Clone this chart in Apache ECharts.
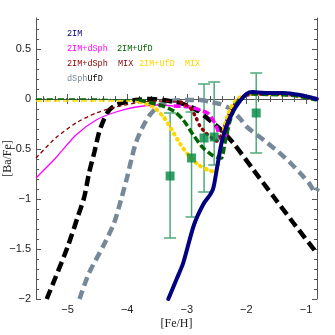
<!DOCTYPE html>
<html>
<head>
<meta charset="utf-8">
<script src="https://cdn.jsdelivr.net/npm/echarts@6/dist/echarts.min.js"></script>
<style>
  html, body { margin: 0; padding: 0; background: #fff; }
  #chart { width: 335px; height: 335px; }
</style>
</head>
<body>
<div id="chart"></div>
<script>
// axis ranges and ticks
const X_MIN = -5.53, X_MAX = -0.815;
const Y_MIN = -2, Y_MAX = 0.81;
const xMajorTicks = [-5, -4, -3, -2, -1];
const yMajorTicks = [-2, -1.5, -1, -0.5, 0, 0.5];
const xMinorTicks = [-5.4, -5.2, -4.8, -4.6, -4.4, -4.2, -3.8, -3.6, -3.4, -3.2,
  -2.8, -2.6, -2.4, -2.2, -1.8, -1.6, -1.4, -1.2, -0.8];
const yMinorTicks = [-1.9, -1.8, -1.7, -1.6, -1.4, -1.3, -1.2, -1.1, -0.9, -0.8, -0.7, -0.6,
  -0.4, -0.3, -0.2, -0.1, 0.1, 0.2, 0.3, 0.4, 0.6, 0.7, 0.8];

// model curves [Fe/H, Ba/Fe]
const line2IM = [[-3.31, -2.0], [-3.17, -1.8], [-3.06, -1.64], [-2.88, -1.26], [-2.72, -1.05],
  [-2.6, -0.95], [-2.55, -0.88], [-2.49, -0.68], [-2.41, -0.42], [-2.32, -0.25], [-2.22, -0.12],
  [-2.12, -0.03], [-2.0, 0.05], [-1.9, 0.07], [-1.8, 0.065], [-1.6, 0.06], [-1.38, 0.06],
  [-1.1, 0.04], [-0.82, 0.0]];
const lineDSphThin = [[-5.53, -0.79], [-5.2, -0.59], [-4.86, -0.36], [-4.52, -0.21],
  [-4.19, -0.13], [-3.85, -0.08], [-3.5, -0.06], [-3.22, -0.07]];
const lineDSphThick = [[-3.22, -0.07], [-2.95, -0.08], [-2.78, -0.11], [-2.65, -0.14],
  [-2.58, -0.19], [-2.5, -0.28], [-2.43, -0.4], [-2.38, -0.42], [-2.33, -0.3], [-2.25, -0.15],
  [-2.15, -0.03], [-2.02, 0.03], [-1.9, 0.05], [-1.6, 0.05], [-1.2, 0.04], [-0.82, 0.0]];
const lineDSphMixThin = [[-5.53, -0.59], [-5.2, -0.39], [-4.86, -0.24], [-4.52, -0.14],
  [-4.19, -0.08], [-3.85, -0.04], [-3.5, -0.02], [-3.1, -0.03]];
const lineDSphMixThick = [[-3.1, -0.03], [-2.94, -0.09], [-2.85, -0.18], [-2.78, -0.27],
  [-2.68, -0.34], [-2.58, -0.39], [-2.5, -0.42], [-2.43, -0.38], [-2.35, -0.25], [-2.25, -0.1],
  [-2.12, 0.0], [-2.0, 0.04], [-1.9, 0.05], [-1.6, 0.05], [-1.2, 0.04], [-0.82, 0.0]];
const lineUfdThin = [[-5.53, 0.0], [-4.5, 0.0], [-4.0, -0.01], [-3.8, -0.01]];
const lineUfdThick = [[-3.8, -0.01], [-3.45, -0.06], [-3.22, -0.12], [-3.06, -0.21],
  [-2.89, -0.36], [-2.74, -0.48], [-2.58, -0.56], [-2.5, -0.58], [-2.42, -0.59], [-2.36, -0.44],
  [-2.27, -0.21], [-2.16, -0.04], [-2.0, 0.04], [-1.9, 0.05], [-1.6, 0.045], [-1.2, 0.035],
  [-0.82, -0.01]];
const lineUfdMixThin = [[-5.53, -0.02], [-4.5, -0.02], [-4.0, -0.02], [-3.78, -0.03]];
const lineUfdMixThick = [[-3.78, -0.03], [-3.56, -0.08], [-3.39, -0.18], [-3.25, -0.31],
  [-3.11, -0.45], [-2.96, -0.57], [-2.8, -0.66], [-2.64, -0.71], [-2.52, -0.73], [-2.47, -0.63],
  [-2.41, -0.43], [-2.36, -0.26], [-2.27, -0.1], [-2.15, 0.0], [-2.0, 0.04], [-1.9, 0.05],
  [-1.6, 0.05], [-1.2, 0.04], [-0.82, 0.0]];
const lineUfD = [[-5.35, -2.0], [-5.2, -1.78], [-5.0, -1.48], [-4.83, -1.18], [-4.72, -0.98],
  [-4.64, -0.74], [-4.55, -0.53], [-4.47, -0.33], [-4.38, -0.19], [-4.3, -0.11], [-4.19, -0.06],
  [-4.02, -0.03], [-3.85, -0.01], [-3.6, 0.0], [-3.4, -0.01], [-3.2, -0.03], [-3.06, -0.05],
  [-2.83, -0.11], [-2.66, -0.19], [-2.44, -0.3], [-2.22, -0.44], [-1.88, -0.71], [-1.54, -0.98],
  [-1.21, -1.24], [-0.82, -1.54]];
const lineDSph = [[-4.8, -2.0], [-4.64, -1.74], [-4.41, -1.48], [-4.22, -1.24], [-4.1, -1.0],
  [-4.0, -0.78], [-3.92, -0.58], [-3.85, -0.43], [-3.74, -0.28], [-3.62, -0.16], [-3.45, -0.06],
  [-3.25, -0.02], [-3.0, -0.01], [-2.78, -0.01], [-2.6, -0.03], [-2.44, -0.05], [-2.27, -0.1],
  [-2.1, -0.2], [-1.99, -0.28], [-1.71, -0.41], [-1.46, -0.53], [-1.26, -0.64], [-1.1, -0.74],
  [-0.95, -0.84], [-0.84, -0.93], [-0.8, -0.89]];

// observations
const obsX = [-3.28, -2.92, -2.71, -2.54, -1.835];
const obsY = [-0.77, -0.59, -0.39, -0.38, -0.14];
const obsLo = [-1.39, -1.18, -0.93, -0.66, -0.54];
const obsHi = [-0.14, -0.13, 0.15, 0.17, 0.26];

const chart = echarts.init(document.getElementById('chart'));

const axisCol = '#555';
const minus = (v) => String(v).replace('-', '\u2212');

function xAx(pos, ticks, len, labels) {
  return {
    type: 'value', position: pos, min: X_MIN, max: X_MAX,
    axisLine: { show: labels !== null, lineStyle: { color: axisCol, width: 1 } },
    axisTick: { show: true, inside: true, length: len, customValues: ticks, lineStyle: { color: axisCol } },
    axisLabel: labels ? {
      show: true, customValues: labels, formatter: minus, margin: 5,
      color: '#222', fontSize: 11, fontFamily: 'Liberation Sans'
    } : { show: false },
    splitLine: { show: false }
  };
}
function yAx(pos, ticks, len, labels) {
  return {
    type: 'value', position: pos, min: Y_MIN, max: Y_MAX,
    axisLine: { show: labels !== null, lineStyle: { color: axisCol, width: 1 } },
    axisTick: { show: true, inside: true, length: len, customValues: ticks, lineStyle: { color: axisCol } },
    axisLabel: labels ? {
      show: true, customValues: labels, formatter: minus, margin: 5,
      color: '#222', fontSize: 11, fontFamily: 'Liberation Sans'
    } : { show: false },
    splitLine: { show: false }
  };
}

const xAxes = [
  xAx('bottom', xMajorTicks, 5, xMajorTicks),
  xAx('bottom', xMinorTicks, 3, null),
  xAx('top', xMajorTicks, 5, false),
  xAx('top', xMinorTicks, 3, null)
];
xAxes[0].name = '[Fe/H]';
xAxes[0].nameLocation = 'middle';
xAxes[0].nameGap = 19;
xAxes[0].nameMoveOverlap = false;
xAxes[0].nameTextStyle = { fontFamily: 'Liberation Serif', fontSize: 12, color: '#222' };

const yAxes = [
  yAx('left', yMajorTicks, 5, yMajorTicks),
  yAx('left', yMinorTicks, 3, null),
  yAx('right', yMajorTicks, 5, false),
  yAx('right', yMinorTicks, 3, null)
];
yAxes[0].name = '[Ba/Fe]';
yAxes[0].nameLocation = 'middle';
yAxes[0].nameGap = 22;
yAxes[0].nameMoveOverlap = false;
yAxes[0].nameTextStyle = { fontFamily: 'Liberation Serif', fontSize: 12, color: '#222' };

function curve(data, color, width, type, cap, z) {
  return {
    type: 'line', data: data, showSymbol: false, smooth: 0.25, z: z,
    lineStyle: { color: color, width: width, type: type, cap: cap || 'butt' },
    silent: true
  };
}

const series = [
  {
    type: 'custom', z: 1, silent: true,
    data: obsX.map((x, i) => [x, obsLo[i], obsHi[i]]),
    renderItem: (params, api) => {
      const x = api.value(0);
      const lo = api.coord([x, api.value(1)]);
      const hi = api.coord([x, api.value(2)]);
      const st = { stroke: '#4fa97c', lineWidth: 1.5 };
      return {
        type: 'group', children: [
          { type: 'line', shape: { x1: lo[0], y1: lo[1], x2: hi[0], y2: hi[1] }, style: st },
          { type: 'line', shape: { x1: lo[0] - 6, y1: lo[1], x2: lo[0] + 6, y2: lo[1] }, style: st },
          { type: 'line', shape: { x1: hi[0] - 6, y1: hi[1], x2: hi[0] + 6, y2: hi[1] }, style: st }
        ]
      };
    }
  },
  curve(lineDSph, '#778899', 4.5, [9, 5], 'butt', 2),
  curve(lineUfD, '#000000', 4.5, [10, 5], 'butt', 3),
  curve(lineDSphThin, '#ff00ff', 1.3, 'solid', 'butt', 4),
  curve(lineDSphMixThin, '#8b0000', 1.3, [4, 3], 'butt', 4),
  curve(lineUfdThin, '#006400', 1.3, [6, 2, 1, 2], 'butt', 4),
  curve(lineUfdMixThin, '#ffd700', 1.5, [6, 3], 'butt', 4),
  curve(lineDSphThick, '#ff00ff', 3.5, [7, 3], 'butt', 5),
  curve(lineDSphMixThick, '#8b0000', 3.5, [1, 5], 'round', 6),
  curve(lineUfdMixThick, '#ffd700', 4, [1, 5], 'round', 6),
  curve(lineUfdThick, '#006400', 3.5, [7, 3], 'butt', 7),
  curve(line2IM, '#000080', 4, 'solid', 'round', 8),
  {
    type: 'scatter', z: 9, silent: true, symbol: 'rect', symbolSize: 9,
    data: obsX.map((x, i) => [x, obsY[i]]),
    itemStyle: { color: '#008843' }
  }
];

const legendFont = { fontFamily: 'Liberation Mono', fontSize: 8.5 };
const legendItems = [
  ['2IM', '#000080', 67, 35],
  ['2IM+dSph', '#ff00ff', 67, 50],
  ['2IM+UfD', '#006400', 117, 50],
  ['2IM+dSph  MIX', '#8b0000', 67, 65],
  ['2IM+UfD  MIX', '#ffd700', 139, 65],
  ['dSph', '#778899', 67, 80],
  ['UfD', '#000000', 87.5, 80]
];

chart.setOption({
  animation: false,
  backgroundColor: '#fff',
  grid: { left: 36, right: 18, top: 18, bottom: 36, outerBoundsMode: 'none', containLabel: false },
  xAxis: xAxes,
  yAxis: yAxes,
  series: series,
  graphic: legendItems.map(([t, c, x, y]) => ({
    type: 'text', left: x, top: y - 6, z: 20,
    style: Object.assign({ text: t, fill: c }, legendFont)
  }))
});
</script>
</body>
</html>
